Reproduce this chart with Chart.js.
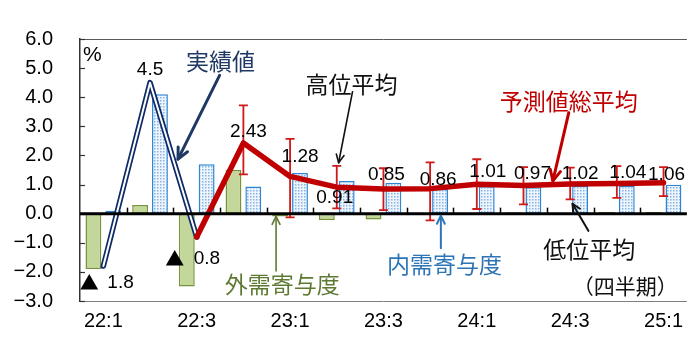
<!DOCTYPE html>
<html><head><meta charset="utf-8">
<script src="https://cdn.jsdelivr.net/npm/chart.js@4/dist/chart.umd.min.js"></script>
<style>html,body{margin:0;padding:0;background:#fff;}canvas{display:block;}</style>
</head><body>
<canvas id="c" width="691" height="340"></canvas>
<script>
// ---- data ----
const categories = ['22:1','22:2','22:3','22:4','23:1','23:2','23:3','23:4','24:1','24:2','24:3','24:4','25:1'];
const xTickLabels = ['22:1','','22:3','','23:1','','23:3','','24:1','','24:3','','25:1'];
const externalDemand = [-1.9, 0.3, -2.5, 1.5, -0.1, -0.22, -0.2, 0, 0, 0.05, 0, 0.06, 0.06];
const domesticDemand = [0.1, 4.1, 1.7, 0.93, 1.4, 1.12, 1.06, 0.85, 0.94, 0.91, 0.96, 0.96, 0.99];
const actual = [-1.8, 4.5, -0.8, null, null, null, null, null, null, null, null, null, null];
const forecastMean = [null, null, -0.8, 2.43, 1.28, 0.91, 0.85, 0.86, 1.01, 0.97, 1.02, 1.04, 1.06];
const highMean = [null, null, null, 3.72, 2.57, 1.64, 1.56, 1.76, 1.87, 1.6, 1.58, 1.63, 1.6];
const lowMean  = [null, null, null, 1.35, -0.13, 0.18, 0.12, -0.23, 0.16, 0.32, 0.49, 0.54, 0.6];
const yMin = -3, yMax = 6;

// ---- label layout (pixel offsets from the point) ----
const forecastLabelOffsets = {3:[5,-11],4:[10,-20],5:[-2,11],6:[3,-14],7:[8,-9],8:[11,-12],9:[9,-12],10:[10,-10],11:[11,-11],12:[3,-8]};
const actualLabelOffsets = {0:{tri:[-14,17],num:[4,17]},1:{num:[0,-13]},2:{tri:[-22,22],num:[-3,22]}};

const notes = [
 {text:'実績値', xi:2.51, y:5.22, color:'#1F3864', arrow:[2.49,4.75,1.60,1.875], aw:3, ah:12},
 {text:'高位平均', xi:5.316, y:4.44, color:'#111111', arrow:[5.338,4.19,5.04,1.75], aw:1.6, ah:9},
 {text:'予測値総平均', xi:9.97, y:3.875, color:'#C00000', arrow:[9.97,3.47,9.63,1.125], aw:3, ah:12},
 {text:'外需寄与度', xi:3.83, y:-2.41, color:'#5E7A32', arrow:[3.70,-1.97,3.70,-0.09], aw:1.6, ah:9},
 {text:'内需寄与度', xi:7.31, y:-1.75, color:'#2E75B6', arrow:[7.23,-1.19,7.23,-0.07], aw:2, ah:9},
 {text:'低位平均', xi:10.41, y:-1.22, color:'#111111', arrow:[10.39,-0.59,10.05,0.34], aw:2, ah:9},
 {text:'（四半期）', xi:11.18, y:-2.47, color:'#111111', size:21}
];

const NUM_FONT = '"Liberation Sans", Arial, sans-serif';
const JP_FONT = '"Noto Sans CJK JP", sans-serif';

// dotted pattern for domestic demand bars
function dotPattern(){
  const c = document.createElement('canvas'); c.width = 3; c.height = 3;
  const g = c.getContext('2d');
  g.fillStyle = '#EEF5FC'; g.fillRect(0,0,3,3);
  g.fillStyle = '#86B4E4'; g.fillRect(1,1,1.5,1.5);
  return g.createPattern(c,'repeat');
}
const ctx = document.getElementById('c').getContext('2d');

function catPx(chart, xi){
  const xs = chart.scales.x; const a = xs.getPixelForValue(0), b = xs.getPixelForValue(1);
  return a + (b-a)*xi;
}
function arrow(g,x1,y1,x2,y2,color,w,head){
  g.save(); g.strokeStyle=color; g.lineWidth=w; g.lineCap='round'; g.lineJoin='round';
  g.beginPath(); g.moveTo(x1,y1); g.lineTo(x2,y2); g.stroke();
  const a = Math.atan2(y2-y1,x2-x1);
  g.beginPath();
  g.moveTo(x2-head*Math.cos(a-0.45), y2-head*Math.sin(a-0.45));
  g.lineTo(x2,y2);
  g.lineTo(x2-head*Math.cos(a+0.45), y2-head*Math.sin(a+0.45));
  g.stroke(); g.restore();
}

const framePlugin = {
  id:'frame',
  beforeDatasetsDraw(chart){
    const g = chart.ctx, a = chart.chartArea;
    g.save();
    g.strokeStyle = '#595959'; g.lineWidth = 1;
    g.beginPath(); g.moveTo(a.left, a.top+0.5); g.lineTo(a.right, a.top+0.5); g.stroke();
    g.strokeStyle = '#7F7F7F';
    g.beginPath(); g.moveTo(a.left, a.bottom+0.5); g.lineTo(a.right, a.bottom+0.5); g.stroke();
    g.restore();
  },
  beforeDatasetDraw(chart, args){
    if (args.index !== 4) return;
    const g = chart.ctx, ys = chart.scales.y;
    g.save(); g.strokeStyle = '#D01818'; g.lineWidth = 1.8;
    for (let i=0;i<categories.length;i++){
      if (highMean[i]==null) continue;
      const x = catPx(chart,i), y1 = ys.getPixelForValue(highMean[i]), y2 = ys.getPixelForValue(lowMean[i]);
      g.beginPath(); g.moveTo(x,y1); g.lineTo(x,y2);
      g.moveTo(x-4.5,y1); g.lineTo(x+4.5,y1);
      g.moveTo(x-4.5,y2); g.lineTo(x+4.5,y2); g.stroke();
    }
    g.restore();
  },
  afterDatasetsDraw(chart){
    const g = chart.ctx, a = chart.chartArea, ys = chart.scales.y;
    const y0 = ys.getPixelForValue(0);
    g.save();
    // y tick marks inward
    g.strokeStyle = '#333'; g.lineWidth = 1.2;
    for (let v=yMin; v<=yMax; v++){
      const y = Math.round(ys.getPixelForValue(v))+0.5;
      g.beginPath(); g.moveTo(a.left, y); g.lineTo(a.left+5, y); g.stroke();
    }
    // zero line
    g.strokeStyle = '#000'; g.lineWidth = 3;
    g.beginPath(); g.moveTo(a.left, y0); g.lineTo(a.right, y0); g.stroke();
    // x tick marks
    g.lineWidth = 1.5;
    for (let i=0;i<categories.length-1;i++){
      const x = Math.round(catPx(chart, i+0.5))+0.5;
      g.beginPath(); g.moveTo(x, y0); g.lineTo(x, y0-6); g.stroke();
    }
    // value labels
    g.fillStyle = '#000'; g.textAlign = 'center'; g.textBaseline = 'middle';
    g.font = '19px ' + NUM_FONT;
    for (const k in forecastLabelOffsets){
      const i = +k, o = forecastLabelOffsets[k];
      g.fillText(forecastMean[i].toFixed(2), catPx(chart,i)+o[0], ys.getPixelForValue(forecastMean[i])+o[1]);
    }
    for (const k in actualLabelOffsets){
      const i = +k, o = actualLabelOffsets[k], v = actual[i];
      const x = catPx(chart,i), y = ys.getPixelForValue(v);
      if (v < 0){
        g.font = '19px ' + JP_FONT; g.textAlign = 'center';
        g.fillText('▲', x+o.tri[0], y+o.tri[1]);
        g.font = '19px ' + NUM_FONT; g.textAlign = 'left';
        g.fillText(Math.abs(v).toFixed(1), x+o.num[0], y+o.num[1]);
      } else {
        g.font = '19px ' + NUM_FONT; g.textAlign = 'center';
        g.fillText(v.toFixed(1), x+o.num[0], y+o.num[1]);
      }
    }
    // % unit
    g.textAlign = 'left'; g.font = '21px ' + NUM_FONT;
    g.fillText('%', a.left+3, ys.getPixelForValue(5.44));
    // annotations
    for (const n of notes){
      g.font = (n.size||23) + 'px ' + JP_FONT; g.fillStyle = n.color; g.textAlign = 'center'; g.textBaseline='middle';
      g.fillText(n.text, catPx(chart,n.xi), ys.getPixelForValue(n.y));
      if (n.arrow){
        const [x1,y1,x2,y2] = n.arrow;
        arrow(g, catPx(chart,x1), ys.getPixelForValue(y1), catPx(chart,x2), ys.getPixelForValue(y2), n.color, n.aw, n.ah);
      }
    }
    g.restore();
  }
};

new Chart(ctx, {
  type:'bar',
  data:{
    labels: categories,
    datasets:[
      {label:'外需寄与度', data: externalDemand, backgroundColor:'#C4D79B', borderColor:'#77933C', borderWidth:1.5, borderSkipped:false, order:9,
       categoryPercentage:0.85, barPercentage:0.8},
      {label:'内需寄与度', data: domesticDemand, backgroundColor: dotPattern(), borderColor:'#2F86D4', borderWidth:1.5, borderSkipped:false, order:10,
       categoryPercentage:0.85, barPercentage:0.8},
      {type:'line', label:'実績値', data: actual, borderColor:'#0F2B67', borderWidth:5.5, pointRadius:0, borderJoinStyle:'round', borderCapStyle:'round', order:4, spanGaps:false},
      {type:'line', label:'実績値_inner', data: actual, borderColor:'#FFFFFF', borderWidth:2, pointRadius:0, borderJoinStyle:'round', borderCapStyle:'round', order:3},
      {type:'line', label:'予測値総平均', data: forecastMean, borderColor:'#C00000', borderWidth:5.5, pointRadius:0, borderJoinStyle:'round', borderCapStyle:'round', order:1}
    ]
  },
  options:{
    responsive:false, devicePixelRatio:1, animation:false,
    layout:{padding:{top:22,right:0,left:0,bottom:0}},
    plugins:{legend:{display:false}, tooltip:{enabled:false}},
    scales:{
      x:{
        grid:{display:false, drawTicks:false}, border:{display:false},
        ticks:{autoSkip:false, maxRotation:0, padding:8, color:'#000', font:{family:NUM_FONT, size:20},
          callback:(v,i)=>xTickLabels[i]},
        afterFit(s){ s.height = 30; }
      },
      y:{
        min:yMin, max:yMax,
        grid:{display:false, drawTicks:false}, border:{display:true, color:'#333', width:1.5},
        ticks:{stepSize:1, padding:27, color:'#000', font:{family:NUM_FONT, size:20},
          callback:(v)=> (v<0?'−':'') + Math.abs(v).toFixed(1)},
        afterFit(s){ s.width = 80; }
      }
    }
  },
  plugins:[framePlugin]
});
</script>
</body></html>
